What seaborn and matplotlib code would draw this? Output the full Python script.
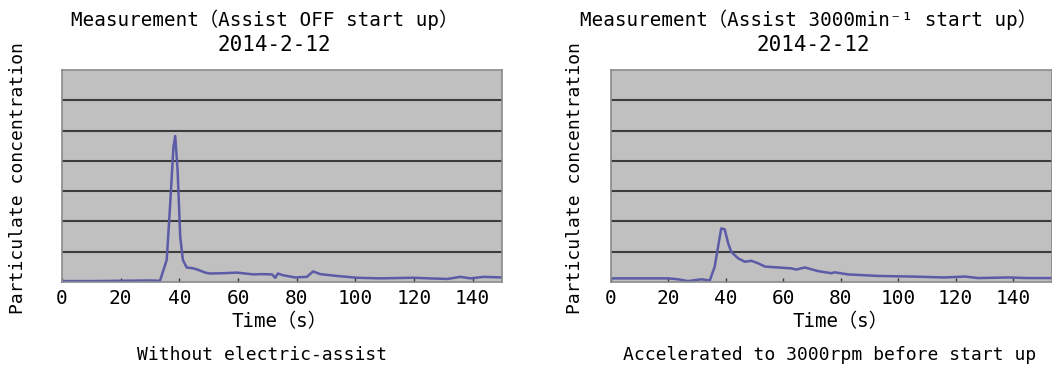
import numpy as np
import pandas as pd
import matplotlib
matplotlib.use("Agg")
import matplotlib.pyplot as plt
import seaborn as sns

# ---- data ----
time_off = [0, 10, 20, 30, 33.4, 35.7, 36.9, 38.0, 38.6, 39.4, 40.3, 41.2, 42.5, 44.8, 46.5,
            48.8, 50.5, 55, 59.6, 65.3, 68, 71.6, 72.7, 73.6, 75.5, 79.5, 83.5, 85.6, 88,
            93.7, 100.6, 108.5, 114, 119.9, 125, 131.3, 135.8, 139.2, 143.8, 150]
conc_off = [0.03, 0.03, 0.04, 0.05, 0.04, 0.73, 2.6, 4.47, 4.82, 3.7, 1.5, 0.73, 0.48, 0.45, 0.40,
            0.31, 0.28, 0.29, 0.31, 0.25, 0.26, 0.25, 0.14, 0.28, 0.22, 0.15, 0.17, 0.35, 0.26,
            0.20, 0.14, 0.12, 0.13, 0.14, 0.12, 0.10, 0.17, 0.12, 0.17, 0.15]

time_on = [0, 10, 20, 23.3, 26.8, 31.5, 34.4, 36.1, 37.5, 38.4, 39.6, 40.8, 41.9, 44.3, 46.6,
           48.9, 51.2, 53.6, 58.2, 62.8, 64.5, 67.5, 72.1, 76.8, 77.9, 82.6, 93, 104.6,
           116.3, 123.2, 127.9, 138.3, 145, 154]
conc_on = [0.12, 0.12, 0.12, 0.09, 0.03, 0.09, 0.05, 0.5, 1.28, 1.77, 1.74, 1.28, 0.99, 0.78, 0.67,
           0.70, 0.62, 0.51, 0.48, 0.45, 0.41, 0.48, 0.36, 0.29, 0.32, 0.25, 0.20, 0.18,
           0.15, 0.18, 0.13, 0.15, 0.13, 0.13]

title_lines = ["Measurement（Assist OFF start up）",
               "Measurement（Assist 3000min⁻¹ start up）"]
date_label = "2014-2-12"
captions = ["Without electric-assist", "Accelerated to 3000rpm before start up"]
x_ticks = [0, 20, 40, 60, 80, 100, 120, 140]
y_grid = [1, 2, 3, 4, 5, 6]
x_label = "Time（s）"
y_label = "Particulate concentration"

sns.set_theme(style="white")
fam = ["DejaVu Sans Mono", "Noto Sans CJK JP"]
plt.rcParams["font.family"] = fam
plt.rcParams["text.color"] = "black"
plt.rcParams["xtick.color"] = "black"

fig = plt.figure(figsize=(10.52, 3.76), dpi=100)
W, H = 1052, 376
axes_px = [(62, 502, (0, 150)), (611, 1052, (0, 153.6))]
title_x = [265, 808]
date_x = [274, 813]
cap_x = [262, 830]
xlab_x = [279, 840]
ylab_x = [18, 575]

line_color = "#5b5ba8"
datasets = [(time_off, conc_off), (time_on, conc_on)]

for i, ((l, r, xl), (tx, cy)) in enumerate(zip(axes_px, datasets)):
    ax = fig.add_axes([l / W, 1 - 282 / H, (r - l) / W, (282 - 70) / H])
    ax.set_facecolor("#c0c0c0")
    df = pd.DataFrame({"t": tx, "c": cy})
    sns.lineplot(data=df, x="t", y="c", ax=ax, color=line_color, lw=1.8)
    ax.set_xlim(*xl)
    ax.set_ylim(0, 7)
    for g in y_grid:
        ax.axhline(g, color="#3c3c3c", lw=1.5, zorder=1)
    ax.set_xticks(x_ticks)
    ax.set_xticklabels([str(v) for v in x_ticks], fontsize=14, color="black")
    ax.set_yticks([])
    ax.tick_params(axis="x", direction="in", length=3, width=1, color="#333333", pad=5,
                   bottom=True)
    ax.set_xlabel("")
    ax.set_ylabel("")
    for s in ax.spines.values():
        s.set_color("#8a8a8a")
        s.set_linewidth(1.2)
    fig.text(title_x[i] / W, 1 - 20 / H, title_lines[i], ha="center", va="center",
             fontsize=13.9, family=fam)
    fig.text(date_x[i] / W, 1 - 45 / H, date_label, ha="center",
             va="center", fontsize=15, family=fam)
    fig.text(xlab_x[i] / W, 1 - 322 / H, x_label, ha="center", va="center",
             fontsize=13.8, family=fam)
    fig.text(cap_x[i] / W, 1 - 355 / H, captions[i], ha="center", va="center",
             fontsize=13, family=fam)
    fig.text(ylab_x[i] / W, 1 - 178 / H, y_label, ha="center", va="center",
             rotation=90, fontsize=13, family=fam)

fig.savefig("out.png", dpi=100, facecolor="white")
